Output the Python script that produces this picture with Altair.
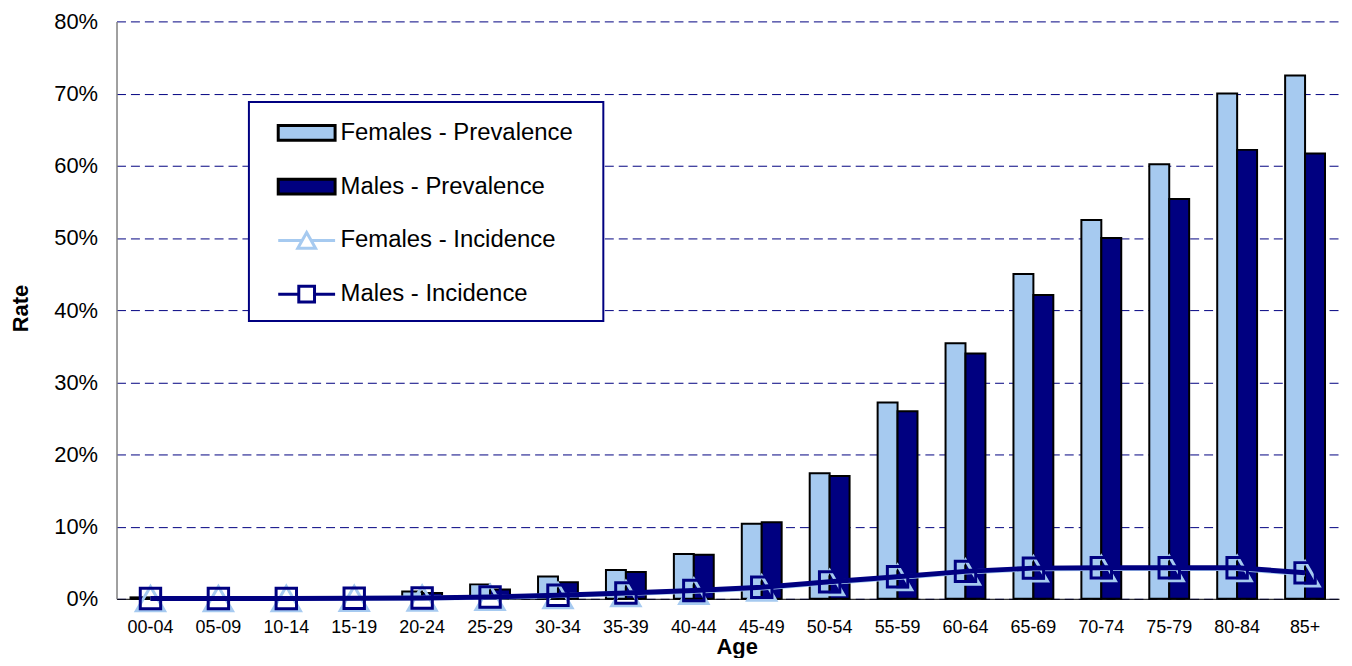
import altair as alt
import pandas as pd

ages = ["00-04", "05-09", "10-14", "15-19", "20-24", "25-29", "30-34", "35-39", "40-44",
        "45-49", "50-54", "55-59", "60-64", "65-69", "70-74", "75-79", "80-84", "85+"]

# values in percent
females_prevalence = [0.2, 0.05, 0.05, 0.1, 1.0, 2.0, 3.1, 4.0, 6.2, 10.4, 17.4, 27.2, 35.4, 45.0, 52.5, 60.2, 70.0, 72.5]
males_prevalence = [0.1, 0.05, 0.05, 0.1, 0.8, 1.3, 2.3, 3.7, 6.1, 10.6, 17.0, 26.0, 34.0, 42.1, 50.0, 55.4, 62.2, 61.7]
females_incidence = [0.03, 0.03, 0.04, 0.06, 0.1, 0.2, 0.45, 0.72, 1.05, 1.5, 2.25, 2.95, 3.7, 4.15, 4.2, 4.2, 4.2, 3.45]
males_incidence = [0.05, 0.05, 0.05, 0.08, 0.12, 0.25, 0.5, 0.8, 1.15, 1.6, 2.35, 3.05, 3.8, 4.25, 4.3, 4.3, 4.3, 3.6]

series_names = ["Females - Prevalence", "Males - Prevalence", "Females - Incidence", "Males - Incidence"]
y_ticks = [0, 0.1, 0.2, 0.3, 0.4, 0.5, 0.6, 0.7, 0.8]

LIGHT = "#A6CAF0"
NAVY = "#000080"

rows = []
for name, vals in zip(series_names, [females_prevalence, males_prevalence, females_incidence, males_incidence]):
    for a, v in zip(ages, vals):
        rows.append({"age": a, "series": name, "rate": v / 100.0})
df = pd.DataFrame(rows)
prev_df = df[df["series"].isin(series_names[:2])]
fem_inc_df = df[df["series"] == series_names[2]]
male_inc_df = df[df["series"] == series_names[3]]

rect_path = "M-1.12,-0.29L1.12,-0.29L1.12,0.29L-1.12,0.29Z"
tri_path = "M-1.12,0L-0.18,0M0.18,0L1.12,0M0,-0.31L0.35,0.31L-0.35,0.31Z"
sq_path = "M-1.12,0L-0.31,0M0.31,0L1.12,0M-0.31,-0.31L0.31,-0.31L0.31,0.31L-0.31,0.31Z"

fill_scale = alt.Scale(domain=series_names, range=[LIGHT, NAVY, "white", "white"])
stroke_scale = alt.Scale(domain=series_names, range=["black", "black", LIGHT, NAVY])
shape_scale = alt.Scale(domain=series_names, range=[rect_path, rect_path, tri_path, sq_path])

# an invisible title on the right only sizes the legend box
leg = alt.Legend(
    title=[".", "."], titleOrient="right", titleOpacity=0, titleFontSize=2,
    titleLineHeight=217, titleBaseline="top", titlePadding=26,
)

x_enc = alt.X(
    "age:N",
    sort=ages,
    scale=alt.Scale(domain=ages, paddingInner=0.413, paddingOuter=0.2065),
    axis=alt.Axis(
        labelAngle=0, labelFontSize=18, labelPadding=20, labelColor="black",
        ticks=False, tickSize=0, domainColor="black", domainWidth=1,
        title="Age", titleFontSize=22, titleFontWeight="bold", titleColor="black",
        titleX=623, titleY=55, titleBaseline="alphabetic",
    ),
)
y_enc = alt.Y(
    "rate:Q",
    scale=alt.Scale(domain=[0, 0.8], nice=False),
    axis=alt.Axis(
        values=y_ticks, format=".0%", labelFontSize=22, labelPadding=19, labelColor="black",
        ticks=False, tickSize=0, domainColor="#808080", domainWidth=1.5,
        grid=True, gridColor=NAVY, gridDash=[9, 5], gridWidth=1,
        title="Rate", titleFontSize=22, titleFontWeight="bold", titleColor="black",
        titleX=-89, titleY=288, titleBaseline="alphabetic", titleAlign="center",
    ),
)

bars = alt.Chart(prev_df).mark_bar().encode(
    x=x_enc,
    xOffset=alt.XOffset("series:N", scale=alt.Scale(domain=series_names[:2])),
    y=y_enc,
    fill=alt.Fill("series:N", scale=fill_scale, legend=leg),
    stroke=alt.Stroke("series:N", scale=stroke_scale, legend=leg),
    strokeWidth=alt.value(2),
)

fem_line = alt.Chart(fem_inc_df).mark_line(stroke=LIGHT, strokeWidth=5).encode(x=x_enc, y=y_enc)
fem_pts = alt.Chart(fem_inc_df).mark_point(
    shape="triangle-up", filled=False, stroke=LIGHT, strokeWidth=3, size=800, opacity=1
).encode(x=x_enc, y=y_enc)
male_line = alt.Chart(male_inc_df).mark_line(stroke=NAVY, strokeWidth=5).encode(x=x_enc, y=y_enc)
male_pts = alt.Chart(male_inc_df).mark_point(
    shape="square", filled=False, stroke=NAVY, strokeWidth=3, size=420, opacity=1
).encode(x=x_enc, y=y_enc)

legend_layer = alt.Chart(df).transform_filter("false").mark_point(filled=True, opacity=1).encode(
    x=x_enc,
    y=y_enc,
    fill=alt.Fill("series:N", scale=fill_scale, legend=leg),
    stroke=alt.Stroke("series:N", scale=stroke_scale, legend=leg),
    shape=alt.Shape("series:N", scale=shape_scale, legend=leg),
)

chart = alt.layer(bars, fem_line, fem_pts, male_line, male_pts, legend_layer).properties(
    width=1228,
    height=580,
    autosize=alt.AutoSizeParams(type="none"),
    padding={"left": 109, "top": 12, "right": 5, "bottom": 58},
).configure(
    font="Liberation Sans"
).configure_view(
    strokeWidth=0
).configure_legend(
    orient="none", legendX=133, legendY=81, padding=4, rowPadding=13,
    labelFont="Liberation Sans", labelFontSize=24, labelColor="black", labelOffset=7, labelLimit=500,
    symbolOffset=27, symbolSize=2601, symbolStrokeWidth=3, symbolOpacity=1,
    symbolFillColor="white", symbolStrokeColor="black",
    strokeColor=NAVY, strokeWidth=2, fillColor="white",
)

chart.save("out.html", embed_options={"renderer": "svg", "actions": False})
